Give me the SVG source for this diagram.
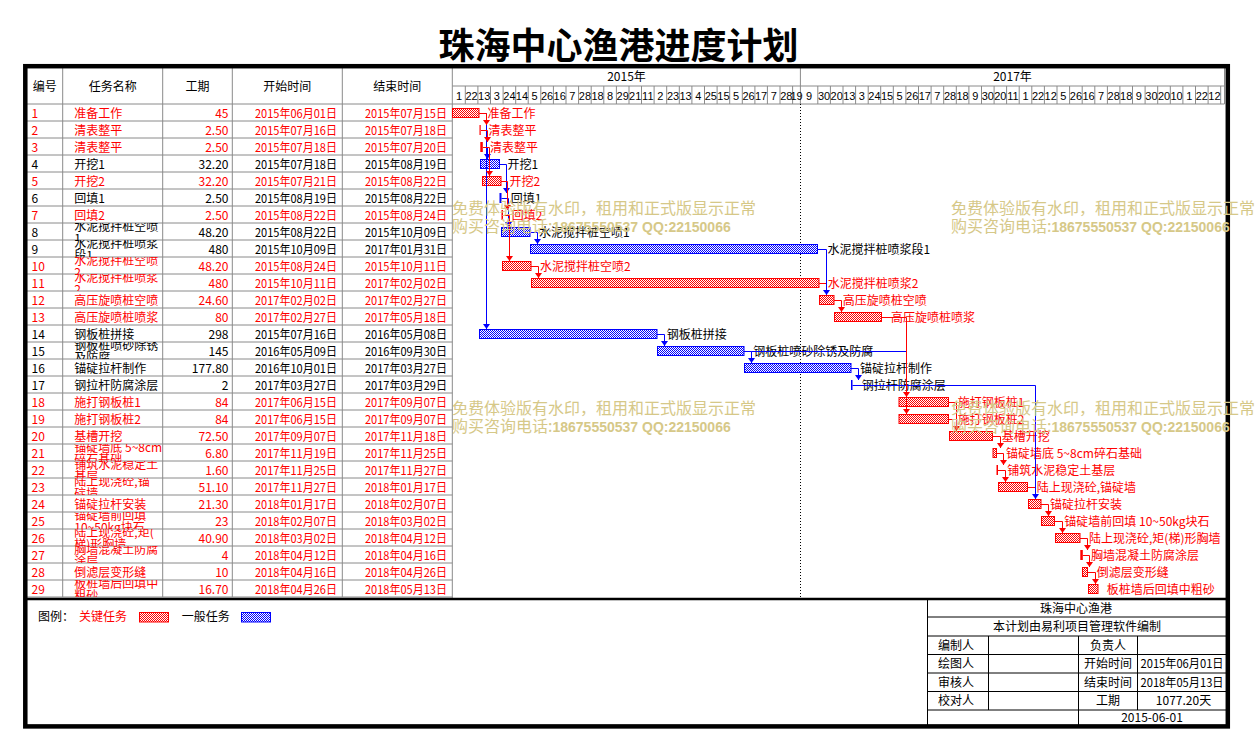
<svg xmlns="http://www.w3.org/2000/svg" width="1255" height="752" viewBox="0 0 1255 752">
<style>
text{font-family:"Noto Sans CJK SC","Noto Sans",sans-serif;font-size:12px}
.r{fill:#f00}.k{fill:#000}
.n{font-family:"Liberation Sans",Arial,sans-serif;font-size:11px;fill:#000;text-anchor:middle}
.c{text-anchor:middle}.e{text-anchor:end}
.grid{stroke:#8a8a8a;stroke-width:1;fill:none}
.blk{stroke:#000;stroke-width:1;fill:none}
.bR{fill:url(#pR);stroke:#f00;stroke-width:1}
.bB{fill:url(#pB);stroke:#00f;stroke-width:1}
.sR{fill:#f00}.sB{fill:#00f}
.lR{stroke:#f00;stroke-width:1;fill:none}
.lB{stroke:#00f;stroke-width:1;fill:none}
.aR{marker-end:url(#mR)}.aB{marker-end:url(#mB)}
.wm{fill:#d6c888;font-size:16px}
.wd{font-family:"Liberation Sans",Arial,sans-serif;font-weight:bold;font-size:14px}
</style>
<defs>
<pattern id="pR" width="2" height="2" patternUnits="userSpaceOnUse"><rect width="2" height="2" fill="#fff"/><rect width="1" height="1" fill="#f00"/><rect x="1" y="1" width="1" height="1" fill="#f00"/></pattern>
<pattern id="pB" width="2" height="2" patternUnits="userSpaceOnUse"><rect width="2" height="2" fill="#fff"/><rect width="1" height="1" fill="#00f"/><rect x="1" y="1" width="1" height="1" fill="#00f"/></pattern>
<marker id="mR" viewBox="0 0 5 7" refX="5" refY="3.5" markerWidth="5" markerHeight="7" orient="auto" markerUnits="userSpaceOnUse"><path d="M0,0 L5,3.5 L0,7 Z" fill="#f00"/></marker>
<marker id="mB" viewBox="0 0 5 7" refX="5" refY="3.5" markerWidth="5" markerHeight="7" orient="auto" markerUnits="userSpaceOnUse"><path d="M0,0 L5,3.5 L0,7 Z" fill="#00f"/></marker>
</defs>
<rect width="1255" height="752" fill="#fff"/>
<text x="618.5" y="59" class="c" style="font-size:36px;font-weight:bold">珠海中心渔港进度计划</text>

<g id="grid">
<path class="grid" d="M62.7,68V597M162.7,68V597M232.3,68V597M342.3,68V597M452.3,68V598M27,104H1224.5M452.3,86H1224.5M1224.5,68V104M800.4,68V104
M27,121H452.3M27,138H452.3M27,155H452.3M27,172H452.3M27,189H452.3M27,206H452.3M27,223H452.3M27,240H452.3M27,257H452.3M27,274H452.3M27,291H452.3M27,308H452.3M27,325H452.3M27,342H452.3M27,359H452.3M27,376H452.3M27,393H452.3M27,410H452.3M27,427H452.3M27,444H452.3M27,461H452.3M27,478H452.3M27,495H452.3M27,512H452.3M27,529H452.3M27,546H452.3M27,563H452.3M27,580H452.3M27,597H452.3"/>
<path class="grid" d="M465.3,86V104M477.9,86V104M490.5,86V104M503.1,86V104M515.7,86V104M528.2,86V104M540.8,86V104M553.4,86V104M566,86V104M578.6,86V104M591.2,86V104M603.8,86V104M616.4,86V104M629,86V104M641.5,86V104M654.1,86V104M666.7,86V104M679.3,86V104M691.9,86V104M704.5,86V104M717.1,86V104M729.7,86V104M742.3,86V104M754.9,86V104M767.4,86V104M780,86V104M792.6,86V104M817.8,86V104M830.4,86V104M843,86V104M855.6,86V104M868.2,86V104M880.7,86V104M893.3,86V104M905.9,86V104M918.5,86V104M931.1,86V104M943.7,86V104M956.3,86V104M968.9,86V104M981.5,86V104M994.1,86V104M1006.6,86V104M1019.2,86V104M1031.8,86V104M1044.4,86V104M1057,86V104M1069.6,86V104M1082.2,86V104M1094.8,86V104M1107.4,86V104M1119.9,86V104M1132.5,86V104M1145.1,86V104M1157.7,86V104M1170.3,86V104M1182.9,86V104M1195.5,86V104M1208.1,86V104M1220.7,86V104"/>
<path d="M800.5,104V598" stroke="#000" stroke-width="1" stroke-dasharray="1,2" fill="none"/>
</g>

<g id="header">
<text x="44.8" y="91" class="c">编号</text>
<text x="112.7" y="91" class="c">任务名称</text>
<text x="197.5" y="91" class="c">工期</text>
<text x="287.3" y="91" class="c">开始时间</text>
<text x="397.3" y="91" class="c">结束时间</text>
<text x="626.5" y="81" class="c">2015年</text>
<text x="1012.5" y="81" class="c">2017年</text>
<text class="n" y="99.5"><tspan x="459">1</tspan><tspan x="471.6">22</tspan><tspan x="484.2">13</tspan><tspan x="496.8">3</tspan><tspan x="509.4">24</tspan><tspan x="521.9">14</tspan><tspan x="534.5">5</tspan><tspan x="547.1">26</tspan><tspan x="559.7">16</tspan><tspan x="572.3">7</tspan><tspan x="584.9">28</tspan><tspan x="597.5">18</tspan><tspan x="610.1">8</tspan><tspan x="622.7">29</tspan><tspan x="635.2">21</tspan><tspan x="647.8">11</tspan><tspan x="660.4">2</tspan><tspan x="673">23</tspan><tspan x="685.6">13</tspan><tspan x="698.2">4</tspan><tspan x="710.8">25</tspan><tspan x="723.4">15</tspan><tspan x="736">5</tspan><tspan x="748.6">26</tspan><tspan x="761.1">17</tspan><tspan x="773.7">7</tspan><tspan x="786.3">28</tspan><tspan x="796.5">19</tspan><tspan x="809.1">9</tspan><tspan x="824.1">30</tspan><tspan x="836.7">20</tspan><tspan x="849.3">13</tspan><tspan x="861.9">3</tspan><tspan x="874.4">24</tspan><tspan x="887">15</tspan><tspan x="899.6">5</tspan><tspan x="912.2">26</tspan><tspan x="924.8">17</tspan><tspan x="937.4">7</tspan><tspan x="950">28</tspan><tspan x="962.6">18</tspan><tspan x="975.2">9</tspan><tspan x="987.8">30</tspan><tspan x="1000.3">20</tspan><tspan x="1012.9">11</tspan><tspan x="1025.5">1</tspan><tspan x="1038.1">22</tspan><tspan x="1050.7">12</tspan><tspan x="1063.3">5</tspan><tspan x="1075.9">26</tspan><tspan x="1088.5">16</tspan><tspan x="1101.1">7</tspan><tspan x="1113.7">28</tspan><tspan x="1126.2">18</tspan><tspan x="1138.8">9</tspan><tspan x="1151.4">30</tspan><tspan x="1164">20</tspan><tspan x="1176.6">10</tspan><tspan x="1189.2">1</tspan><tspan x="1201.8">22</tspan><tspan x="1214.4">12</tspan></text>
</g>

<g id="tasks">
<g id="task-1" class="r"><text x="31.5" y="117.5">1</text><text x="74.3" y="117.5">准备工作</text><text x="228.5" y="117.5" class="e">45</text><text x="255" y="117.5" textLength="82" lengthAdjust="spacingAndGlyphs">2015年06月01日</text><text x="365" y="117.5" textLength="82" lengthAdjust="spacingAndGlyphs">2015年07月15日</text><rect class="bR" x="452.5" y="108.5" width="26.5" height="9"/><text x="487.5" y="118">准备工作</text></g>
<g id="task-2" class="r"><text x="31.5" y="134.5">2</text><text x="74.3" y="134.5">清表整平</text><text x="228.5" y="134.5" class="e">2.50</text><text x="255" y="134.5" textLength="82" lengthAdjust="spacingAndGlyphs">2015年07月16日</text><text x="365" y="134.5" textLength="82" lengthAdjust="spacingAndGlyphs">2015年07月18日</text><rect class="sR" x="479.5" y="125" width="1.2" height="10"/><text x="488.5" y="135">清表整平</text></g>
<g id="task-3" class="r"><text x="31.5" y="151.5">3</text><text x="74.3" y="151.5">清表整平</text><text x="228.5" y="151.5" class="e">2.50</text><text x="255" y="151.5" textLength="82" lengthAdjust="spacingAndGlyphs">2015年07月18日</text><text x="365" y="151.5" textLength="82" lengthAdjust="spacingAndGlyphs">2015年07月20日</text><rect class="sR" x="480.3" y="142" width="2.5" height="10"/><text x="490" y="152">清表整平</text></g>
<g id="task-4" class="k"><text x="31.5" y="168.5">4</text><text x="74.3" y="168.5">开挖1</text><text x="228.5" y="168.5" class="e">32.20</text><text x="255" y="168.5" textLength="82" lengthAdjust="spacingAndGlyphs">2015年07月18日</text><text x="365" y="168.5" textLength="82" lengthAdjust="spacingAndGlyphs">2015年08月19日</text><rect class="bB" x="480.5" y="159.5" width="19" height="9"/><text x="507.5" y="169">开挖1</text></g>
<g id="task-5" class="r"><text x="31.5" y="185.5">5</text><text x="74.3" y="185.5">开挖2</text><text x="228.5" y="185.5" class="e">32.20</text><text x="255" y="185.5" textLength="82" lengthAdjust="spacingAndGlyphs">2015年07月21日</text><text x="365" y="185.5" textLength="82" lengthAdjust="spacingAndGlyphs">2015年08月22日</text><rect class="bR" x="482.5" y="176.5" width="18.5" height="9"/><text x="509.5" y="186">开挖2</text></g>
<g id="task-6" class="k"><text x="31.5" y="202.5">6</text><text x="74.3" y="202.5">回填1</text><text x="228.5" y="202.5" class="e">2.50</text><text x="255" y="202.5" textLength="82" lengthAdjust="spacingAndGlyphs">2015年08月19日</text><text x="365" y="202.5" textLength="82" lengthAdjust="spacingAndGlyphs">2015年08月22日</text><rect class="sB" x="499.5" y="193" width="2" height="10"/><text x="510.7" y="203">回填1</text></g>
<g id="task-7" class="r"><text x="31.5" y="219.5">7</text><text x="74.3" y="219.5">回填2</text><text x="228.5" y="219.5" class="e">2.50</text><text x="255" y="219.5" textLength="82" lengthAdjust="spacingAndGlyphs">2015年08月22日</text><text x="365" y="219.5" textLength="82" lengthAdjust="spacingAndGlyphs">2015年08月24日</text><rect class="sR" x="501.5" y="210" width="1.5" height="10"/><text x="511.7" y="220">回填2</text></g>
<g id="task-8" class="k"><text x="31.5" y="236.5">8</text><svg x="63" y="223" width="99.5" height="17"><text x="11.3" y="8">水泥搅拌桩空喷<tspan x="11.3" y="20">1</tspan></text></svg><text x="228.5" y="236.5" class="e">48.20</text><text x="255" y="236.5" textLength="82" lengthAdjust="spacingAndGlyphs">2015年08月22日</text><text x="365" y="236.5" textLength="82" lengthAdjust="spacingAndGlyphs">2015年10月09日</text><rect class="bB" x="501.5" y="227.5" width="28.5" height="9"/><text x="539" y="237">水泥搅拌桩空喷1</text></g>
<g id="task-9" class="k"><text x="31.5" y="253.5">9</text><svg x="63" y="240" width="99.5" height="17"><text x="11.3" y="8">水泥搅拌桩喷浆<tspan x="11.3" y="20">段1</tspan></text></svg><text x="228.5" y="253.5" class="e">480</text><text x="255" y="253.5" textLength="82" lengthAdjust="spacingAndGlyphs">2015年10月09日</text><text x="365" y="253.5" textLength="82" lengthAdjust="spacingAndGlyphs">2017年01月31日</text><rect class="bB" x="530.5" y="244.5" width="287" height="9"/><text x="827.5" y="254">水泥搅拌桩喷浆段1</text></g>
<g id="task-10" class="r"><text x="31.5" y="270.5">10</text><svg x="63" y="257" width="99.5" height="17"><text x="11.3" y="8">水泥搅拌桩空喷<tspan x="11.3" y="20">2</tspan></text></svg><text x="228.5" y="270.5" class="e">48.20</text><text x="255" y="270.5" textLength="82" lengthAdjust="spacingAndGlyphs">2015年08月24日</text><text x="365" y="270.5" textLength="82" lengthAdjust="spacingAndGlyphs">2015年10月11日</text><rect class="bR" x="502.5" y="261.5" width="28.5" height="9"/><text x="540" y="271">水泥搅拌桩空喷2</text></g>
<g id="task-11" class="r"><text x="31.5" y="287.5">11</text><svg x="63" y="274" width="99.5" height="17"><text x="11.3" y="8">水泥搅拌桩喷浆<tspan x="11.3" y="20">2</tspan></text></svg><text x="228.5" y="287.5" class="e">480</text><text x="255" y="287.5" textLength="82" lengthAdjust="spacingAndGlyphs">2015年10月11日</text><text x="365" y="287.5" textLength="82" lengthAdjust="spacingAndGlyphs">2017年02月02日</text><rect class="bR" x="531.5" y="278.5" width="287.5" height="9"/><text x="827.7" y="288">水泥搅拌桩喷浆2</text></g>
<g id="task-12" class="r"><text x="31.5" y="304.5">12</text><text x="74.3" y="304.5">高压旋喷桩空喷</text><text x="228.5" y="304.5" class="e">24.60</text><text x="255" y="304.5" textLength="82" lengthAdjust="spacingAndGlyphs">2017年02月02日</text><text x="365" y="304.5" textLength="82" lengthAdjust="spacingAndGlyphs">2017年02月27日</text><rect class="bR" x="819.5" y="295.5" width="14.5" height="9"/><text x="842.7" y="305">高压旋喷桩空喷</text></g>
<g id="task-13" class="r"><text x="31.5" y="321.5">13</text><text x="74.3" y="321.5">高压旋喷桩喷浆</text><text x="228.5" y="321.5" class="e">80</text><text x="255" y="321.5" textLength="82" lengthAdjust="spacingAndGlyphs">2017年02月27日</text><text x="365" y="321.5" textLength="82" lengthAdjust="spacingAndGlyphs">2017年05月18日</text><rect class="bR" x="834.5" y="312.5" width="47" height="9"/><text x="891" y="322">高压旋喷桩喷浆</text></g>
<g id="task-14" class="k"><text x="31.5" y="338.5">14</text><text x="74.3" y="338.5">钢板桩拼接</text><text x="228.5" y="338.5" class="e">298</text><text x="255" y="338.5" textLength="82" lengthAdjust="spacingAndGlyphs">2015年07月16日</text><text x="365" y="338.5" textLength="82" lengthAdjust="spacingAndGlyphs">2016年05月08日</text><rect class="bB" x="479.5" y="329.5" width="177.5" height="9"/><text x="666.7" y="339">钢板桩拼接</text></g>
<g id="task-15" class="k"><text x="31.5" y="355.5">15</text><svg x="63" y="342" width="99.5" height="17"><text x="11.3" y="8">钢板桩喷砂除锈<tspan x="11.3" y="20">及防腐</tspan></text></svg><text x="228.5" y="355.5" class="e">145</text><text x="255" y="355.5" textLength="82" lengthAdjust="spacingAndGlyphs">2016年05月09日</text><text x="365" y="355.5" textLength="82" lengthAdjust="spacingAndGlyphs">2016年09月30日</text><rect class="bB" x="657.5" y="346.5" width="86.5" height="9"/><text x="753.3" y="356">钢板桩喷砂除锈及防腐</text></g>
<g id="task-16" class="k"><text x="31.5" y="372.5">16</text><text x="74.3" y="372.5">锚碇拉杆制作</text><text x="228.5" y="372.5" class="e">177.80</text><text x="255" y="372.5" textLength="82" lengthAdjust="spacingAndGlyphs">2016年10月01日</text><text x="365" y="372.5" textLength="82" lengthAdjust="spacingAndGlyphs">2017年03月27日</text><rect class="bB" x="744.5" y="363.5" width="106.5" height="9"/><text x="860" y="373">锚碇拉杆制作</text></g>
<g id="task-17" class="k"><text x="31.5" y="389.5">17</text><text x="74.3" y="389.5">钢拉杆防腐涂层</text><text x="228.5" y="389.5" class="e">2</text><text x="255" y="389.5" textLength="82" lengthAdjust="spacingAndGlyphs">2017年03月27日</text><text x="365" y="389.5" textLength="82" lengthAdjust="spacingAndGlyphs">2017年03月29日</text><rect class="sB" x="851" y="380" width="1.5" height="10"/><text x="861.7" y="390">钢拉杆防腐涂层</text></g>
<g id="task-18" class="r"><text x="31.5" y="406.5">18</text><text x="74.3" y="406.5">施打钢板桩1</text><text x="228.5" y="406.5" class="e">84</text><text x="255" y="406.5" textLength="82" lengthAdjust="spacingAndGlyphs">2017年06月15日</text><text x="365" y="406.5" textLength="82" lengthAdjust="spacingAndGlyphs">2017年09月07日</text><rect class="bR" x="899" y="397.5" width="49.5" height="9"/><text x="957.7" y="407">施打钢板桩1</text></g>
<g id="task-19" class="r"><text x="31.5" y="423.5">19</text><text x="74.3" y="423.5">施打钢板桩2</text><text x="228.5" y="423.5" class="e">84</text><text x="255" y="423.5" textLength="82" lengthAdjust="spacingAndGlyphs">2017年06月15日</text><text x="365" y="423.5" textLength="82" lengthAdjust="spacingAndGlyphs">2017年09月07日</text><rect class="bR" x="899" y="414.5" width="49.5" height="9"/><text x="957.7" y="424">施打钢板桩2</text></g>
<g id="task-20" class="r"><text x="31.5" y="440.5">20</text><text x="74.3" y="440.5">基槽开挖</text><text x="228.5" y="440.5" class="e">72.50</text><text x="255" y="440.5" textLength="82" lengthAdjust="spacingAndGlyphs">2017年09月07日</text><text x="365" y="440.5" textLength="82" lengthAdjust="spacingAndGlyphs">2017年11月18日</text><rect class="bR" x="949.5" y="431.5" width="43" height="9"/><text x="1001.7" y="441">基槽开挖</text></g>
<g id="task-21" class="r"><text x="31.5" y="457.5">21</text><svg x="63" y="444" width="99.5" height="17"><text x="11.3" y="8">锚碇墙底 5~8cm<tspan x="11.3" y="20">碎石基础</tspan></text></svg><text x="228.5" y="457.5" class="e">6.80</text><text x="255" y="457.5" textLength="82" lengthAdjust="spacingAndGlyphs">2017年11月19日</text><text x="365" y="457.5" textLength="82" lengthAdjust="spacingAndGlyphs">2017年11月25日</text><rect class="bR" x="993" y="448.5" width="3.5" height="9"/><text x="1006" y="458">锚碇墙底 5~8cm碎石基础</text></g>
<g id="task-22" class="r"><text x="31.5" y="474.5">22</text><svg x="63" y="461" width="99.5" height="17"><text x="11.3" y="8">铺筑水泥稳定土<tspan x="11.3" y="20">基层</tspan></text></svg><text x="228.5" y="474.5" class="e">1.60</text><text x="255" y="474.5" textLength="82" lengthAdjust="spacingAndGlyphs">2017年11月25日</text><text x="365" y="474.5" textLength="82" lengthAdjust="spacingAndGlyphs">2017年11月27日</text><rect class="sR" x="996.5" y="465" width="1.5" height="10"/><text x="1007.3" y="475">铺筑水泥稳定土基层</text></g>
<g id="task-23" class="r"><text x="31.5" y="491.5">23</text><svg x="63" y="478" width="99.5" height="17"><text x="11.3" y="8">陆上现浇砼,锚<tspan x="11.3" y="20">碇墙</tspan></text></svg><text x="228.5" y="491.5" class="e">51.10</text><text x="255" y="491.5" textLength="82" lengthAdjust="spacingAndGlyphs">2017年11月27日</text><text x="365" y="491.5" textLength="82" lengthAdjust="spacingAndGlyphs">2018年01月17日</text><rect class="bR" x="998.5" y="482.5" width="29" height="9"/><text x="1036.7" y="492">陆上现浇砼,锚碇墙</text></g>
<g id="task-24" class="r"><text x="31.5" y="508.5">24</text><text x="74.3" y="508.5">锚碇拉杆安装</text><text x="228.5" y="508.5" class="e">21.30</text><text x="255" y="508.5" textLength="82" lengthAdjust="spacingAndGlyphs">2018年01月17日</text><text x="365" y="508.5" textLength="82" lengthAdjust="spacingAndGlyphs">2018年02月07日</text><rect class="bR" x="1028.5" y="499.5" width="12.5" height="9"/><text x="1050" y="509">锚碇拉杆安装</text></g>
<g id="task-25" class="r"><text x="31.5" y="525.5">25</text><svg x="63" y="512" width="99.5" height="17"><text x="11.3" y="8">锚碇墙前回填<tspan x="11.3" y="20">10~50kg块石</tspan></text></svg><text x="228.5" y="525.5" class="e">23</text><text x="255" y="525.5" textLength="82" lengthAdjust="spacingAndGlyphs">2018年02月07日</text><text x="365" y="525.5" textLength="82" lengthAdjust="spacingAndGlyphs">2018年03月02日</text><rect class="bR" x="1041.5" y="516.5" width="13" height="9"/><text x="1064.3" y="526">锚碇墙前回填 10~50kg块石</text></g>
<g id="task-26" class="r"><text x="31.5" y="542.5">26</text><svg x="63" y="529" width="99.5" height="17"><text x="11.3" y="8">陆上现浇砼,矩(<tspan x="11.3" y="20">梯)形胸墙</tspan></text></svg><text x="228.5" y="542.5" class="e">40.90</text><text x="255" y="542.5" textLength="82" lengthAdjust="spacingAndGlyphs">2018年03月02日</text><text x="365" y="542.5" textLength="82" lengthAdjust="spacingAndGlyphs">2018年04月12日</text><rect class="bR" x="1055.5" y="533.5" width="24.5" height="9"/><text x="1089" y="543">陆上现浇砼,矩(梯)形胸墙</text></g>
<g id="task-27" class="r"><text x="31.5" y="559.5">27</text><svg x="63" y="546" width="99.5" height="17"><text x="11.3" y="8">胸墙混凝土防腐<tspan x="11.3" y="20">涂层</tspan></text></svg><text x="228.5" y="559.5" class="e">4</text><text x="255" y="559.5" textLength="82" lengthAdjust="spacingAndGlyphs">2018年04月12日</text><text x="365" y="559.5" textLength="82" lengthAdjust="spacingAndGlyphs">2018年04月16日</text><rect class="sR" x="1080.3" y="550" width="2.5" height="10"/><text x="1091" y="560">胸墙混凝土防腐涂层</text></g>
<g id="task-28" class="r"><text x="31.5" y="576.5">28</text><text x="74.3" y="576.5">倒滤层变形缝</text><text x="228.5" y="576.5" class="e">10</text><text x="255" y="576.5" textLength="82" lengthAdjust="spacingAndGlyphs">2018年04月16日</text><text x="365" y="576.5" textLength="82" lengthAdjust="spacingAndGlyphs">2018年04月26日</text><rect class="bR" x="1082.5" y="567.5" width="5" height="9"/><text x="1096.7" y="577">倒滤层变形缝</text></g>
<g id="task-29" class="r"><text x="31.5" y="593.5">29</text><svg x="63" y="580" width="99.5" height="17"><text x="11.3" y="8">板桩墙后回填中<tspan x="11.3" y="20">粗砂</tspan></text></svg><text x="228.5" y="593.5" class="e">16.70</text><text x="255" y="593.5" textLength="82" lengthAdjust="spacingAndGlyphs">2018年04月26日</text><text x="365" y="593.5" textLength="82" lengthAdjust="spacingAndGlyphs">2018年05月13日</text><rect class="bR" x="1088.5" y="584.5" width="9.5" height="9"/><text x="1106.7" y="594">板桩墙后回填中粗砂</text></g>
</g>

<g id="connectors">
<path class="lB aB" d="M479,113.5H486.5V329"/>
<path class="lB aB" d="M483,147.5H487.5V159"/>
<path class="lB aB" d="M499.5,164.5H506.5V193"/>
<path class="lB aB" d="M501.5,198.5H508.5V227"/>
<path class="lB aB" d="M530,232.5H537.5V244"/>
<path class="lB aB" d="M817.5,249.5H826.5V295"/>
<path class="lB aB" d="M657,334.5H664.5V346"/>
<path class="lB aB" d="M744,351.5H751.5V363"/>
<path class="lB" d="M751.5,351.5H906.5"/>
<path class="lB aB" d="M851,368.5H858.5V380"/>
<path class="lB aB" d="M852.5,385.5H1035.5V499"/>
<path class="lR" d="M819,283.5H826"/>
<path class="lR" d="M1027.5,487.5H1035"/>
<path class="lR aR" d="M479,113.5H486.5V125"/>
<path class="lR aR" d="M481,130.5H487.5V142"/>
<path class="lR aR" d="M483,147.5H489.5V176"/>
<path class="lR aR" d="M501,181.5H507.5V210"/>
<path class="lR aR" d="M503,215.5H509.5V261"/>
<path class="lR aR" d="M531,266.5H538.5V278"/>
<path class="lR aR" d="M834,300.5H841.5V312"/>
<path class="lR aR" d="M881.5,317.5H906.5V397"/>
<path class="lR aR" d="M906.5,397V414"/>
<path class="lR aR" d="M948.5,402.5H956.5V431"/>
<path class="lR" d="M948.5,419.5H956.5"/>
<path class="lR aR" d="M992.5,436.5H1000.5V448"/>
<path class="lR aR" d="M996.5,453.5H1003.5V465"/>
<path class="lR aR" d="M998,470.5H1005.5V482"/>
<path class="lR aR" d="M1041,504.5H1048.5V516"/>
<path class="lR aR" d="M1054.5,521.5H1062.5V533"/>
<path class="lR aR" d="M1080,538.5H1087.5V550"/>
<path class="lR aR" d="M1082.8,555.5H1089.5V567"/>
<path class="lR aR" d="M1087.5,572.5H1095.5V584"/>
</g>

<g id="legend">
<text x="38" y="621" class="k">图例：</text>
<text x="79" y="621" class="r">关键任务</text>
<rect class="bR" x="139.5" y="612.5" width="29" height="9.5"/>
<text x="181.7" y="621" class="k">一般任务</text>
<rect class="bB" x="241.5" y="612.5" width="29" height="9.5"/>
</g>

<g id="titleblock">
<path class="blk" d="M927.5,599V726M927.5,617H1226M927.5,636H1226M927.5,654.5H1226M927.5,673H1226M927.5,691.5H1226M927.5,710H1226M988.5,636V710M1078.5,636V726M1137.5,636V710"/>
<text x="1076" y="612.5" class="c">珠海中心渔港</text>
<text x="1077" y="631" class="c">本计划由易利项目管理软件编制</text>
<text x="938" y="649.5">编制人</text>
<text x="938" y="668">绘图人</text>
<text x="938" y="686.5">审核人</text>
<text x="938" y="705">校对人</text>
<text x="1108" y="649.5" class="c">负责人</text>
<text x="1108" y="668" class="c">开始时间</text>
<text x="1108" y="686.5" class="c">结束时间</text>
<text x="1108" y="705" class="c">工期</text>
<text x="1140.5" y="668" textLength="83" lengthAdjust="spacingAndGlyphs">2015年06月01日</text>
<text x="1140.5" y="686.5" textLength="83" lengthAdjust="spacingAndGlyphs">2018年05月13日</text>
<text x="1183.5" y="705" class="c">1077.20天</text>
<text x="1152" y="722" class="c">2015-06-01</text>
</g>

<g id="frame" fill="none" stroke="#000">
<rect x="25.3" y="66.2" width="1202.5" height="660.2" stroke-width="4.5"/>
<path d="M27,599H1226" stroke-width="2.5"/>
</g>

<g id="watermark" class="wm">
<text x="452" y="214" class="wm">免费体验版有水印，租用和正式版显示正常</text>
<text x="452" y="231.5" class="wm">购买咨询电话:<tspan class="wd">18675550537 QQ:22150066</tspan></text>
<text x="951" y="214" class="wm">免费体验版有水印，租用和正式版显示正常</text>
<text x="951" y="231.5" class="wm">购买咨询电话:<tspan class="wd">18675550537 QQ:22150066</tspan></text>
<text x="452" y="414" class="wm">免费体验版有水印，租用和正式版显示正常</text>
<text x="452" y="431.5" class="wm">购买咨询电话:<tspan class="wd">18675550537 QQ:22150066</tspan></text>
<text x="951" y="414" class="wm">免费体验版有水印，租用和正式版显示正常</text>
<text x="951" y="431.5" class="wm">购买咨询电话:<tspan class="wd">18675550537 QQ:22150066</tspan></text>
</g>
</svg>
